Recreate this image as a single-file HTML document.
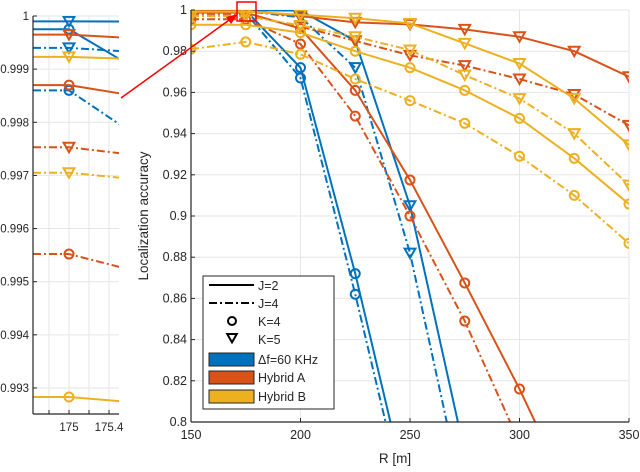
<!DOCTYPE html>
<html><head><meta charset="utf-8"><style>
html,body{margin:0;padding:0;background:#fff;overflow:hidden;width:640px;height:472px;}
svg{display:block;}
svg text{font-family:"Liberation Sans",sans-serif;fill:#262626;}
</style></head><body>
<svg id="chart" width="640" height="472" viewBox="0 0 640 472">
<defs>
<clipPath id="clipMain"><rect x="191" y="10" width="438" height="412"/></clipPath>
<clipPath id="clipInset"><rect x="33" y="16" width="86" height="398"/></clipPath>
</defs>
<g id="inset"></g>
<g id="main"></g>
</svg>
<script>
const ranges = [150,175,200,225,250,275,300,325,350];
const seriesNames = ["df-J2-K4","df-J2-K5","df-J4-K4","df-J4-K5","hybA-J2-K4","hybA-J2-K5","hybA-J4-K4","hybA-J4-K5","hybB-J2-K4","hybB-J2-K5","hybB-J4-K4","hybB-J4-K5"];
const dfJ2K4 = [0.99975,0.99975,0.972,0.872,0.76,0.6,0.5,0.4,0.3];
const dfJ2K5 = [0.9999,0.9999,0.9997,0.985,0.905,0.785,0.6,0.5,0.4];
const dfJ4K4 = [0.9986,0.9986,0.967,0.862,0.75,0.6,0.5,0.4,0.3];
const dfJ4K5 = [0.9994,0.9994,0.9965,0.972,0.882,0.76,0.6,0.5,0.4];
const haJ2K4 = [0.9987,0.9987,0.991,0.961,0.9175,0.8675,0.816,0.76,0.7];
const haJ2K5 = [0.99965,0.99965,0.997,0.994,0.993,0.9906,0.987,0.980,0.9676];
const haJ4K4 = [0.99552,0.99552,0.9835,0.9485,0.900,0.849,0.79,0.73,0.67];
const haJ4K5 = [0.99753,0.99753,0.992,0.985,0.978,0.973,0.9665,0.959,0.944];
const hbJ2K4 = [0.99283,0.99283,0.989,0.980,0.972,0.961,0.9474,0.928,0.9058];
const hbJ2K5 = [0.99923,0.99923,0.9977,0.996,0.9935,0.9838,0.974,0.957,0.9345];
const hbJ4K4 = [0.981,0.9845,0.9785,0.9665,0.956,0.945,0.929,0.910,0.8867];
const hbJ4K5 = [0.99705,0.99705,0.9925,0.987,0.9806,0.9684,0.957,0.940,0.915];
const mainYTicks = [0.8,0.82,0.84,0.86,0.88,0.9,0.92,0.94,0.96,0.98,1];
const mainXTicks = [150,200,250,300,350];
const insetYTicks = [0.993,0.994,0.995,0.996,0.997,0.998,0.999,1];
const insetXTicks = [174.8,175,175.2,175.4];
const insetXLabels = ["","175","","175.4"];

const BLUE="#0072BD", ORANGE="#D95319", YELLOW="#EDB120";
const series = [
 {n:seriesNames[0],v:dfJ2K4,c:BLUE,d:false,m:"o"},
 {n:seriesNames[1],v:dfJ2K5,c:BLUE,d:false,m:"v"},
 {n:seriesNames[2],v:dfJ4K4,c:BLUE,d:true,m:"o"},
 {n:seriesNames[3],v:dfJ4K5,c:BLUE,d:true,m:"v"},
 {n:seriesNames[4],v:haJ2K4,c:ORANGE,d:false,m:"o"},
 {n:seriesNames[5],v:haJ2K5,c:ORANGE,d:false,m:"v"},
 {n:seriesNames[6],v:haJ4K4,c:ORANGE,d:true,m:"o"},
 {n:seriesNames[7],v:haJ4K5,c:ORANGE,d:true,m:"v"},
 {n:seriesNames[8],v:hbJ2K4,c:YELLOW,d:false,m:"o"},
 {n:seriesNames[9],v:hbJ2K5,c:YELLOW,d:false,m:"v"},
 {n:seriesNames[10],v:hbJ4K4,c:YELLOW,d:true,m:"o"},
 {n:seriesNames[11],v:hbJ4K5,c:YELLOW,d:true,m:"v"}
];
const NS="http://www.w3.org/2000/svg";
function mk(parent,tag,attrs,text){const e=document.createElementNS(NS,tag);for(const k in attrs)e.setAttribute(k,attrs[k]);if(text!==undefined)e.textContent=text;parent.appendChild(e);return e;}
function marker(g,type,x,y,color,s){
  let e;
  if(type==="o"){e=mk(g,"circle",{cx:x,cy:y,r:s,fill:"none",stroke:color,"stroke-width":2});}
  else{e=mk(g,"path",{d:`M${x-s*1.2},${y-s} L${x+s*1.2},${y-s} L${x},${y+s*1.1} Z`,fill:"none",stroke:color,"stroke-width":2});}
  return e;
}
function drawAxes(root,cfg){
  const sx=v=>cfg.x0+(v-cfg.xmin)/(cfg.xmax-cfg.xmin)*(cfg.x1-cfg.x0);
  const sy=v=>cfg.y1-(v-cfg.ymin)/(cfg.ymax-cfg.ymin)*(cfg.y1-cfg.y0);
  const grid=mk(root,"g",{});
  
  
  cfg.xt.forEach(t=>mk(grid,"line",{x1:sx(t),x2:sx(t),y1:cfg.y0,y2:cfg.y1,stroke:"#e6e6e6","stroke-width":1}));
  cfg.yt.forEach(t=>mk(grid,"line",{x1:cfg.x0,x2:cfg.x1,y1:sy(t),y2:sy(t),stroke:"#e6e6e6","stroke-width":1}));
  const sg=mk(root,"g",{"clip-path":`url(#${cfg.clip})`});
  
  
  series.forEach(s=>{
    const g=mk(sg,"g",{});
    
    
    const pts=ranges.map((r,i)=>sx(r)+","+sy(s.v[i])).join(" ");
    const attrs={points:pts,fill:"none",stroke:s.c,"stroke-width":2,"stroke-linejoin":"round"};
    if(s.d)attrs["stroke-dasharray"]="8,3,2,3";
    mk(g,"polyline",attrs);
    ranges.forEach((r,i)=>{
      const m=marker(g,s.m,sx(r),sy(s.v[i]),s.c,cfg.ms);
      
      
    });
  });
  mk(root,"line",{x1:cfg.x0,x2:cfg.x1,y1:cfg.y1,y2:cfg.y1,stroke:"#262626","stroke-width":1.2});
  mk(root,"line",{x1:cfg.x0,x2:cfg.x0,y1:cfg.y0,y2:cfg.y1,stroke:"#262626","stroke-width":1.2});
  cfg.xt.forEach((t,i)=>{
    mk(root,"line",{x1:sx(t),x2:sx(t),y1:cfg.y1,y2:cfg.y1-4,stroke:"#262626"});
    const lab=cfg.xl?cfg.xl[i]:String(t);
    if(lab){const tx=mk(root,"text",{x:sx(t),y:cfg.y1+17,"text-anchor":"middle","font-size":cfg.fs},lab);
      
      }
  });
  cfg.yt.forEach(t=>{
    mk(root,"line",{x1:cfg.x0,x2:cfg.x0+4,y1:sy(t),y2:sy(t),stroke:"#262626"});
    const tx=mk(root,"text",{x:cfg.x0-4,y:sy(t)+4,"text-anchor":"end","font-size":cfg.fs},String(t));
    
    
  });
  return {sx,sy};
}
const main=document.getElementById("main");
drawAxes(main,{prefix:"main",x0:191,x1:629,y0:10,y1:422,xmin:150,xmax:350,ymin:0.8,ymax:1,xt:mainXTicks,yt:mainYTicks,clip:"clipMain",ms:4.5,fs:12.5});
const inset=document.getElementById("inset");
drawAxes(inset,{prefix:"inset",x0:33,x1:119,y0:16,y1:414,xmin:174.64,xmax:175.5,ymin:0.99251,ymax:1.0000,xt:insetXTicks,yt:insetYTicks,xl:insetXLabels,clip:"clipInset",ms:4.5,fs:11.5});
let t=mk(main,"text",{x:395,y:463,"text-anchor":"middle","font-size":13.5},"R [m]");


t=mk(main,"text",{x:0,y:0,"text-anchor":"middle","font-size":13.5,transform:"translate(148,216) rotate(-90)"},"Localization accuracy");


let r=mk(main,"rect",{x:237,y:2,width:19,height:19,fill:"none",stroke:"#ff0000","stroke-width":1.5});


let a=mk(main,"line",{x1:121,y1:98,x2:232,y2:18,stroke:"#ff0000","stroke-width":1.5});


let ah=mk(main,"path",{d:"M238,14 L226,17 L231,24 Z",fill:"#ff0000"});


const lg=mk(main,"g",{});


mk(lg,"rect",{x:203,y:276,width:131,height:133,fill:"#fff",stroke:"#262626","stroke-width":1});
const legendLabels=["J=2","J=4","K=4","K=5","\u0394f=60 KHz","Hybrid A","Hybrid B"];
const legendY=[289,307,325,343,363,381,400];
legendLabels.forEach((lab,i)=>{
  const y=legendY[i];
  const e=mk(lg,"g",{});
  
  
  if(i===0)mk(e,"line",{x1:209,x2:254,y1:y-4,y2:y-4,stroke:"#000","stroke-width":2});
  if(i===1)mk(e,"line",{x1:209,x2:254,y1:y-4,y2:y-4,stroke:"#000","stroke-width":2,"stroke-dasharray":"8,3,2,3"});
  if(i===2)marker(e,"o",232,y-4,"#000",4);
  if(i===3)marker(e,"v",232,y-5,"#000",4);
  if(i>=4)mk(e,"rect",{x:209,y:y-10,width:45,height:13,fill:[BLUE,ORANGE,YELLOW][i-4],stroke:"#262626","stroke-width":1});
  mk(e,"text",{x:258,y:y+1,"font-size":12.5,fill:"#000"},lab);
});
</script>
</body></html>
